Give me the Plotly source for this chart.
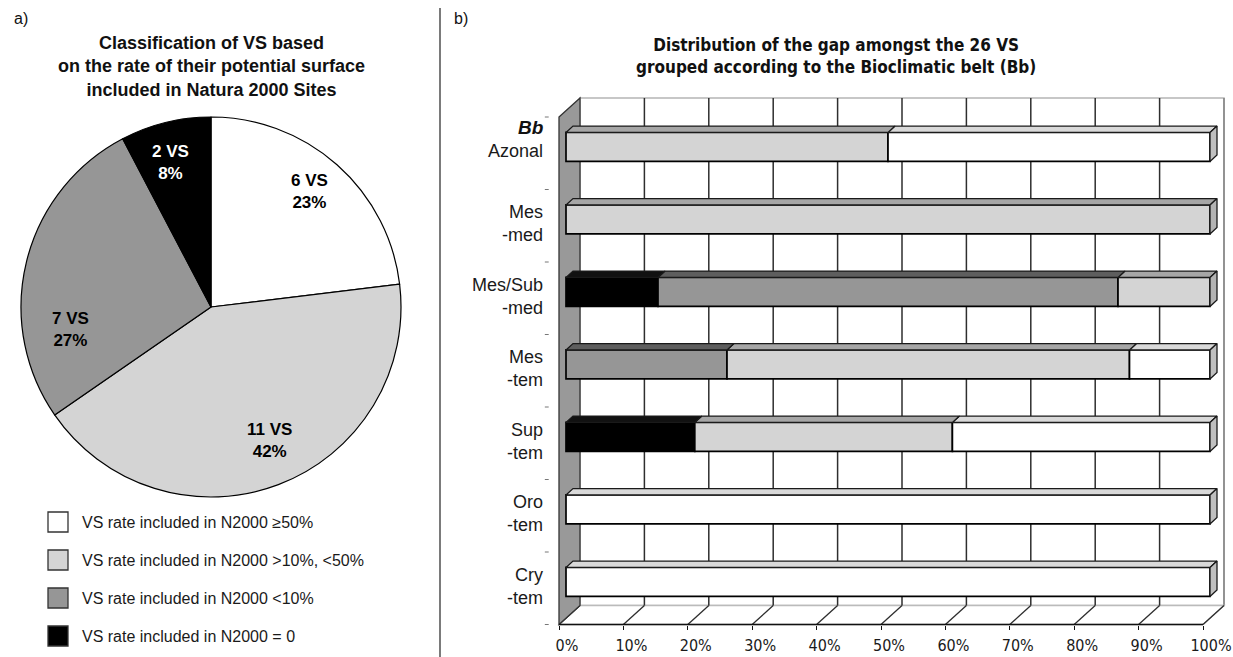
import math
import plotly.graph_objects as go

W, H = 1233, 657

# ---------------- data ----------------
classes = [
    "VS rate included in N2000 ≥50%",
    "VS rate included in N2000 >10%, <50%",
    "VS rate included in N2000 <10%",
    "VS rate included in N2000 = 0",
]
class_counts = [6, 11, 7, 2]

belts = ["Azonal", "Mes<br>-med", "Mes/Sub<br>-med", "Mes<br>-tem",
         "Sup<br>-tem", "Oro<br>-tem", "Cry<br>-tem"]
# number of VS of each belt falling in each class (stacked left to right)
belt_zero = [0, 0, 1, 0, 1, 0, 0]   # = 0
belt_low = [0, 0, 5, 2, 0, 0, 0]    # <10%
belt_mid = [1, 2, 1, 5, 2, 0, 0]    # >10%, <50%
belt_high = [1, 0, 0, 1, 2, 1, 1]   # >=50%

pct_ticks = [0, 10, 20, 30, 40, 50, 60, 70, 80, 90, 100]
pct_labels = ["0%", "10%", "20%", "30%", "40%", "50%",
              "60%", "70%", "80%", "90%", "100%"]

# ---------------- style ----------------
FONT = "Liberation Sans, Arial, sans-serif"
NARROW = "Liberation Sans Narrow, Arial Narrow, DejaVu Sans Condensed, sans-serif"
face_colors = ["#ffffff", "#d4d4d4", "#969696", "#000000"]     # >=50, 10-50, <10, 0
top_colors = ["#d9d9d9", "#a6a6a6", "#5e5e5e", "#111111"]
side_colors = ["#bfbfbf", "#b3b3b3", "#6e6e6e", "#111111"]
text_colors = ["#000000", "#000000", "#000000", "#ffffff"]

# pie placement (px) and label placement inside the slices
PIE_CX, PIE_CY, PIE_R = 211, 307, 190
label_r = [0.80, 0.77, 0.75, 0.79]
label_turn = [-1, -3, -23, -2]      # degrees, clockwise

# projection of the 3-D bar chart (pixels)
PX_X = 6.44          # px per percent on the front plane
X0_PX = 559          # px of 0% on the front plane
ROW_PX = 72.5        # px between belts
K0_PX = 153.25       # px of the first belt (front plane)
DEPTH_X = 21 / PX_X  # depth of the box, in x units
DEPTH_K = 19 / ROW_PX
BAR_H = 29 / ROW_PX
n_rows = len(belts)
K_TOP, K_BOT = -0.5, n_rows - 0.5

xr = [-2.5, 104.5]
yr = [n_rows - 0.15, -1.0]
xdom = [(X0_PX + PX_X * xr[0]) / W, (X0_PX + PX_X * xr[1]) / W]
ydom = [1 - (K0_PX + ROW_PX * yr[0]) / H, 1 - (K0_PX + ROW_PX * yr[1]) / H]

fig = go.Figure()
annotations = []

# ---------------- pie ----------------
fig.add_trace(go.Pie(
    values=class_counts, labels=classes, sort=False, direction="clockwise",
    rotation=0,
    marker=dict(colors=face_colors, line=dict(color="#000000", width=1.2)),
    textinfo="none",
    domain=dict(x=[(PIE_CX - PIE_R) / W, (PIE_CX + PIE_R) / W],
                y=[1 - (PIE_CY + PIE_R) / H, 1 - (PIE_CY - PIE_R) / H]),
    showlegend=False, hoverinfo="label+value+percent",
))

total = sum(class_counts)
cum = 0
for i, v in enumerate(class_counts):
    ang = math.radians(360 * (cum + v / 2) / total + label_turn[i])
    cum += v
    r = label_r[i] * PIE_R
    px = PIE_CX + r * math.sin(ang)
    py = PIE_CY - r * math.cos(ang)
    annotations.append(dict(
        xref="paper", yref="paper", x=px / W, y=1 - py / H,
        xanchor="center", yanchor="middle", showarrow=False,
        text=f"<b>{v} VS<br>{round(100 * v / total)}%</b>",
        font=dict(family=FONT, size=17, color=text_colors[i])))

# ---------------- stacked 3-D bars ----------------
series = [belt_zero, belt_low, belt_mid, belt_high]
series_cls = [3, 2, 1, 0]
totals = [sum(s[i] for s in series) for i in range(n_rows)]
pct = [[100 * s[i] / totals[i] for i in range(n_rows)] for s in series]

d1x, d2x = DEPTH_X / 3, 2 * DEPTH_X / 3
d1k, d2k = DEPTH_K / 3, 2 * DEPTH_K / 3

starts = [0.0] * n_rows
top_polys = {c: ([], []) for c in range(4)}
side_polys = {c: ([], []) for c in range(4)}
for s_idx, vals in enumerate(pct):
    c = series_cls[s_idx]
    xs, bases, ys = [], [], []
    for k in range(n_rows):
        v = vals[k]
        if v <= 0:
            continue
        a, b = starts[k], starts[k] + v
        xs.append(v)
        bases.append(a + d1x)
        ys.append(k - d1k)
        yf = k - d1k - BAR_H / 2
        yb = k - d2k - BAR_H / 2
        px_, py_ = top_polys[c]
        px_ += [a + d1x, b + d1x, b + d2x, a + d2x, a + d1x, None]
        py_ += [yf, yf, yb, yb, yf, None]
        if abs(b - 100) < 1e-6:
            sx, sy = side_polys[c]
            sx += [b + d1x, b + d2x, b + d2x, b + d1x, b + d1x, None]
            sy += [yf, yb, yb + BAR_H, yf + BAR_H, yf, None]
        starts[k] = b
    fig.add_trace(go.Bar(
        x=xs, y=ys, base=bases, orientation="h", width=BAR_H,
        marker=dict(color=face_colors[c], line=dict(color="#000000", width=1.7)),
        showlegend=False, hoverinfo="skip", xaxis="x", yaxis="y",
    ))

for c in range(4):
    for polys, cols in ((top_polys, top_colors), (side_polys, side_colors)):
        px_, py_ = polys[c]
        if not px_:
            continue
        fig.add_trace(go.Scatter(
            x=px_, y=py_, mode="lines", fill="toself", fillcolor=cols[c],
            line=dict(color="#1a1a1a", width=1.3), connectgaps=False,
            showlegend=False, hoverinfo="skip", xaxis="x", yaxis="y",
        ))

# ---------------- walls, floor and grid ----------------
shapes = []
def poly(points):
    return "M " + " L ".join(f"{x},{y}" for x, y in points) + " Z"

# back wall
shapes.append(dict(type="path", xref="x", yref="y", layer="below",
                   path=poly([(DEPTH_X, K_TOP - DEPTH_K), (100 + DEPTH_X, K_TOP - DEPTH_K),
                              (100 + DEPTH_X, K_BOT - DEPTH_K), (DEPTH_X, K_BOT - DEPTH_K)]),
                   fillcolor="#ffffff", line=dict(color="#b5b5b5", width=1.5)))
shapes.append(dict(type="line", xref="x", yref="y", layer="below",
                   x0=100 + DEPTH_X, x1=100 + DEPTH_X, y0=K_TOP - DEPTH_K, y1=K_BOT - DEPTH_K,
                   line=dict(color="#777777", width=1.3)))
# floor
shapes.append(dict(type="path", xref="x", yref="y", layer="below",
                   path=poly([(0, K_BOT), (100, K_BOT), (100 + DEPTH_X, K_BOT - DEPTH_K),
                              (DEPTH_X, K_BOT - DEPTH_K)]),
                   fillcolor="#ffffff", line=dict(color="#bbbbbb", width=1.3)))
for t in pct_ticks[1:-1]:
    shapes.append(dict(type="line", xref="x", yref="y", layer="below",
                       x0=t + DEPTH_X, x1=t + DEPTH_X, y0=K_TOP - DEPTH_K, y1=K_BOT - DEPTH_K,
                       line=dict(color="#2e2e2e", width=1.5)))
for t in pct_ticks:
    shapes.append(dict(type="line", xref="x", yref="y", layer="below",
                       x0=t, x1=t + DEPTH_X, y0=K_BOT, y1=K_BOT - DEPTH_K,
                       line=dict(color="#2e2e2e", width=1.3)))
# left wall
shapes.append(dict(type="path", xref="x", yref="y", layer="below",
                   path=poly([(0, K_TOP), (DEPTH_X, K_TOP - DEPTH_K),
                              (DEPTH_X, K_BOT - DEPTH_K), (0, K_BOT)]),
                   fillcolor="#999999", line=dict(color="#333333", width=1.3)))
# front floor edge
shapes.append(dict(type="line", xref="x", yref="y", layer="below",
                   x0=0, x1=100, y0=K_BOT, y1=K_BOT,
                   line=dict(color="#111111", width=1.6)))
# belt separators on the category axis
for k in range(n_rows + 1):
    shapes.append(dict(type="line", xref="x", yref="y", layer="below",
                       x0=-2.2, x1=-1.6, y0=k - 0.5, y1=k - 0.5,
                       line=dict(color="#777777", width=1)))

# panel separator
shapes.append(dict(type="line", xref="paper", yref="paper",
                   x0=440 / W, x1=440 / W, y0=0, y1=1 - 8 / H,
                   line=dict(color="#222222", width=1.2)))

# manual legend for the pie
for i, cls in enumerate(classes):
    yc = 522 + 38 * i
    shapes.append(dict(type="rect", xref="paper", yref="paper",
                       x0=48 / W, x1=68 / W, y0=1 - (yc + 10) / H, y1=1 - (yc - 10) / H,
                       fillcolor=face_colors[i], line=dict(color="#333333", width=1.3)))
    annotations.append(dict(xref="paper", yref="paper", x=80 / W, y=1 - yc / H,
                            xanchor="left", yanchor="middle", showarrow=False, text=cls,
                            font=dict(family=FONT, size=16, color="#1a1a1a")))

# belt labels
for k, b in enumerate(belts):
    annotations.append(dict(xref="paper", yref="y", x=545 / W, y=k - 0.03,
                            xanchor="right", yanchor="middle", align="right",
                            showarrow=False, text=b,
                            font=dict(family=FONT, size=18, color="#1a1a1a")))
annotations.append(dict(xref="paper", yref="y", x=546 / W, y=-0.36,
                        xanchor="right", yanchor="middle", showarrow=False,
                        text="<b><i>Bb</i></b>",
                        font=dict(family=FONT, size=19, color="#111111")))

# titles and panel letters
annotations += [
    dict(xref="paper", yref="paper", x=12 / W, y=1 - 19 / H, xanchor="left",
         yanchor="middle", showarrow=False, text="a)",
         font=dict(family=FONT, size=16, color="#111111")),
    dict(xref="paper", yref="paper", x=452 / W, y=1 - 19 / H, xanchor="left",
         yanchor="middle", showarrow=False, text="b)",
         font=dict(family=FONT, size=16, color="#111111")),
    dict(xref="paper", yref="paper", x=211 / W, y=1 - 66 / H, xanchor="center",
         yanchor="middle", showarrow=False,
         text="<b>Classification of VS based<br>on the rate of their potential surface"
              "<br>included in Natura 2000 Sites</b>",
         font=dict(family=FONT, size=18, color="#111111")),
    dict(xref="paper", yref="paper", x=836 / W, y=1 - 56 / H, xanchor="center",
         yanchor="middle", showarrow=False,
         text="<b>Distribution of the gap amongst the 26 VS<br>"
              "grouped according to the Bioclimatic belt (Bb)</b>",
         font=dict(family=NARROW, size=17, color="#111111")),
]

fig.update_layout(
    width=W, height=H, margin=dict(l=0, r=0, t=0, b=0),
    paper_bgcolor="#ffffff", plot_bgcolor="rgba(0,0,0,0)",
    barmode="overlay", showlegend=False,
    shapes=shapes, annotations=annotations,
    xaxis=dict(domain=xdom, range=xr, anchor="free",
               position=1 - (K0_PX + ROW_PX * K_BOT) / H,
               tickmode="array", tickvals=pct_ticks, ticktext=pct_labels,
               ticks="outside", ticklen=4, tickcolor="#111111", tickwidth=1,
               ticklabelshift=8, ticklabelstandoff=2,
               showgrid=False, zeroline=False, showline=False,
               tickfont=dict(family=NARROW, size=16, color="#1a1a1a"), fixedrange=True),
    yaxis=dict(domain=ydom, range=yr, autorange=False, visible=False, fixedrange=True),
)

fig.write_html("out.html")
